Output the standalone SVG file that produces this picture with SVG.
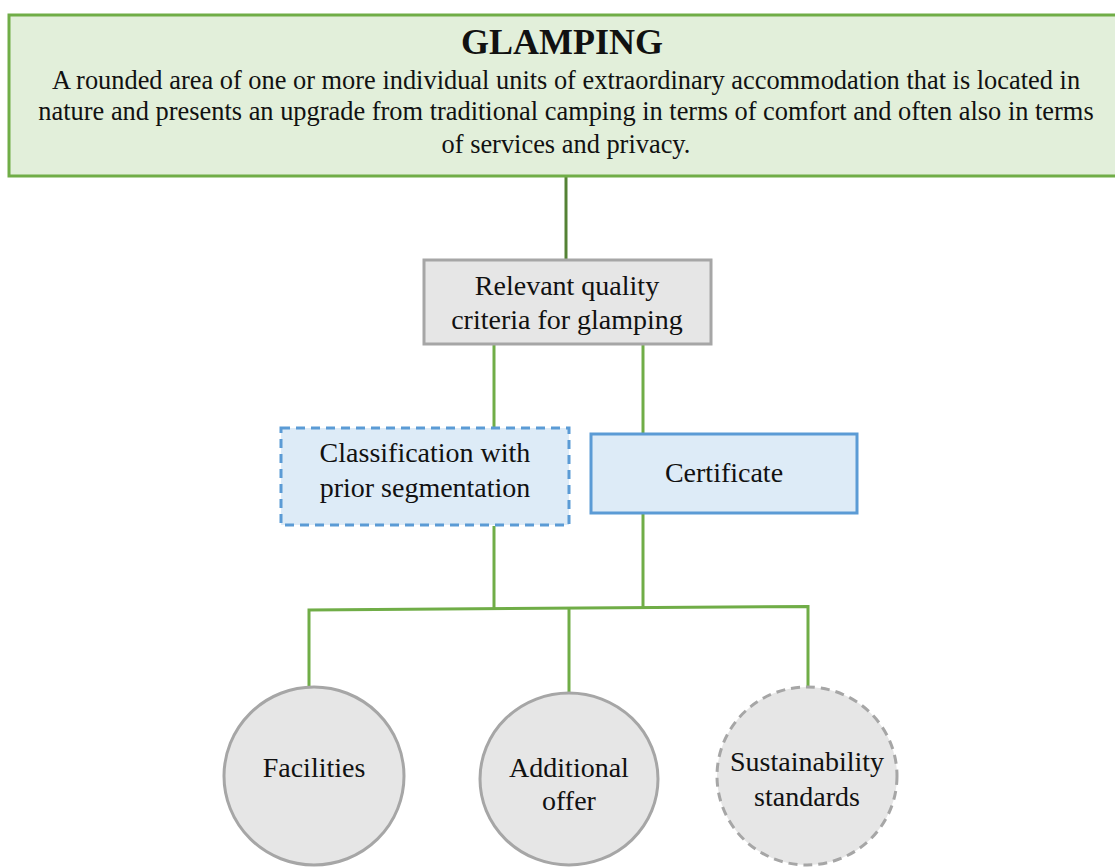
<svg xmlns="http://www.w3.org/2000/svg" width="1115" height="867" viewBox="0 0 1115 867">
<style>
text{font-family:"Liberation Serif","Times New Roman",serif;fill:#111;text-anchor:middle}
.t28{font-size:28px}
.desc{font-size:26.4px}
.title{font-size:36px;font-weight:bold}
.conn{stroke:#70AD47;stroke-width:3;fill:none}
.gray{fill:#E6E6E6;stroke:#A6A6A6;stroke-width:3}
.blue{fill:#DDEBF7;stroke:#5B9BD5;stroke-width:3}
.dash{stroke-dasharray:9 6}
</style>
<rect width="1115" height="867" fill="#fff"/>
<g id="connectors">
<line x1="566" y1="176" x2="566" y2="260" stroke="#548235" stroke-width="3"/>
<line class="conn" x1="494" y1="345" x2="494" y2="428"/>
<line class="conn" x1="643" y1="345" x2="643" y2="433"/>
<line class="conn" x1="494" y1="526" x2="494" y2="609"/>
<line class="conn" x1="643" y1="514" x2="643" y2="608"/>
<polyline class="conn" points="309,688 309,610 808,606.5 808,688"/>
<line class="conn" x1="569" y1="608" x2="569" y2="692"/>
</g>
<g id="glamping">
<rect x="9" y="15" width="1115" height="161" fill="#E2EFDA" stroke="#70AD47" stroke-width="3"/>
<text class="title" x="562" y="54">GLAMPING</text>
<text class="desc" x="566" y="89">A rounded area of one or more individual units of extraordinary accommodation that is located in</text>
<text class="desc" x="566" y="120">nature and presents an upgrade from traditional camping in terms of comfort and often also in terms</text>
<text class="desc" x="566" y="153">of services and privacy.</text>
</g>
<g id="criteria">
<rect class="gray" x="424" y="260" width="287" height="84"/>
<text class="t28" x="567" y="295">Relevant quality</text>
<text class="t28" x="567" y="329">criteria for glamping</text>
</g>
<g id="classification">
<rect class="blue dash" x="281" y="428" width="288" height="97"/>
<text class="t28" x="425" y="462">Classification with</text>
<text class="t28" x="425" y="497">prior segmentation</text>
</g>
<g id="certificate">
<rect class="blue" x="591" y="434" width="266" height="79"/>
<text class="t28" x="724" y="482">Certificate</text>
</g>
<g id="facilities">
<ellipse class="gray" cx="314" cy="776" rx="90" ry="89"/>
<text class="t28" x="314" y="777">Facilities</text>
</g>
<g id="additional">
<ellipse class="gray" cx="569" cy="779" rx="89" ry="86"/>
<text class="t28" x="569" y="777">Additional</text>
<text class="t28" x="569" y="810">offer</text>
</g>
<g id="sustainability">
<ellipse class="gray dash" cx="807" cy="776" rx="90" ry="89"/>
<text class="t28" x="807" y="771">Sustainability</text>
<text class="t28" x="807" y="806">standards</text>
</g>
</svg>
